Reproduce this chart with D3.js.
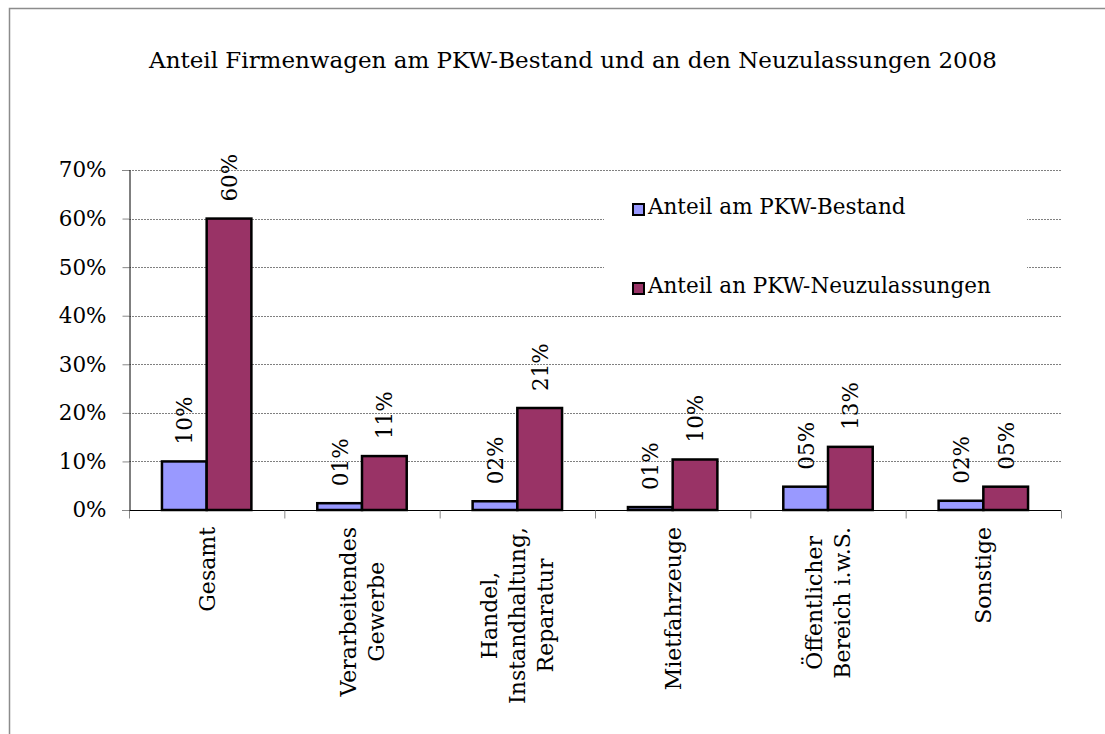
<!DOCTYPE html>
<html>
<head>
<meta charset="utf-8">
<script src="https://cdn.jsdelivr.net/npm/d3@7"></script>
<style>
  body { margin: 0; background: #fff; }
  svg { display: block; font-family: "DejaVu Serif", serif; }
  .grid line { stroke: #808080; stroke-dasharray: 2,1; }
</style>
</head>
<body>
<svg width="1105" height="734"></svg>
<script>
const categories = [
  ["Gesamt"],
  ["Verarbeitendes", "Gewerbe"],
  ["Handel,", "Instandhaltung,", "Reparatur"],
  ["Mietfahrzeuge"],
  ["Öffentlicher", "Bereich i.w.S."],
  ["Sonstige"]
];
const seriesNames = ["Anteil am PKW-Bestand", "Anteil an PKW-Neuzulassungen"];
const bestand = [0.10, 0.014, 0.018, 0.006, 0.048, 0.019];
const neuzulassungen = [0.60, 0.111, 0.21, 0.104, 0.13, 0.048];
const yTicks = [0, 0.1, 0.2, 0.3, 0.4, 0.5, 0.6, 0.7];
const colors = ["#9999ff", "#993366"];
const title = "Anteil Firmenwagen am PKW-Bestand und an den Neuzulassungen 2008";

const svg = d3.select("svg");
const plotLeft = 129, plotRight = 1061, plotTop = 170, plotBottom = 510;
const fs = 21.5;

// frame
svg.append("path")
  .attr("d", "M9.5,734 V8.5 H1105")
  .attr("fill", "none")
  .attr("stroke", "#8c8c8c")
  .attr("stroke-width", 1.5);

svg.append("text")
  .attr("x", 573).attr("y", 68)
  .attr("text-anchor", "middle")
  .attr("font-size", 23)
  .text(title);

const keys = categories.map((c) => c.join(" "));
const x = d3.scaleBand().domain(keys).range([plotLeft, plotRight]).padding(0);
const x1 = d3.scaleBand().domain([0, 1]).range([0, x.bandwidth()]).paddingInner(0).paddingOuter(0.737);
const y = d3.scaleLinear().domain([0, 0.7]).range([plotBottom, plotTop]);

// gridlines
svg.append("g").attr("class", "grid")
  .selectAll("line").data(yTicks.slice(1)).join("line")
  .attr("x1", plotLeft).attr("x2", plotRight)
  .attr("y1", (d) => Math.round(y(d)) + 0.5).attr("y2", (d) => Math.round(y(d)) + 0.5);

// legend background hides the grid behind it
svg.append("rect")
  .attr("x", 604).attr("y", 186).attr("width", 423).attr("height", 120)
  .attr("fill", "#fff");

// y axis
const yAxis = svg.append("g")
  .attr("transform", `translate(${plotLeft + 0.5},0)`)
  .call(d3.axisLeft(y).tickValues(yTicks).tickFormat(d3.format(".0%")).tickSize(7).tickPadding(16));
yAxis.select(".domain").attr("stroke", "#000");
yAxis.selectAll(".tick line").attr("stroke", "#888");
yAxis.selectAll(".tick text").attr("font-size", fs).attr("font-family", "DejaVu Serif").attr("fill", "#000");

// x axis
const xAxis = svg.append("g").attr("transform", `translate(0,${plotBottom + 0.5})`);
xAxis.append("line").attr("x1", plotLeft).attr("x2", plotRight).attr("stroke", "#000");
xAxis.selectAll(".xt").data(d3.range(keys.length + 1)).join("line")
  .attr("class", "xt")
  .attr("x1", (i) => plotLeft + i * x.step() + 0.5).attr("x2", (i) => plotLeft + i * x.step() + 0.5)
  .attr("y1", 0).attr("y2", 8)
  .attr("stroke", "#888");

const lineGap = 28;
const lab = svg.append("g").selectAll("text").data(categories).join("text")
  .attr("transform", (d, i) => `translate(${x(keys[i]) + x.bandwidth() / 2},527) rotate(-90)`)
  .attr("text-anchor", "end")
  .attr("font-size", 22);
lab.each(function (lines) {
  const t = d3.select(this);
  const n = lines.length;
  lines.forEach((ln, j) => {
    t.append("tspan")
      .attr("x", 0)
      .attr("y", (j - (n - 1) / 2) * lineGap + 8)
      .text(ln);
  });
});
// center lines relative to the longest one
lab.each(function (lines) {
  const spans = d3.select(this).selectAll("tspan").nodes();
  const widths = spans.map((s) => s.getComputedTextLength());
  const maxW = d3.max(widths);
  spans.forEach((s, j) => d3.select(s).attr("x", -(maxW - widths[j]) / 2));
});

// bars
const rows = keys.map((k, i) => ({ key: k, values: [bestand[i], neuzulassungen[i]] }));
const groups = svg.append("g").selectAll("g").data(rows).join("g")
  .attr("transform", (d) => `translate(${x(d.key)},0)`);

groups.selectAll("rect").data((d) => d.values.map((v, s) => ({ v, s }))).join("rect")
  .attr("x", (d) => x1(d.s))
  .attr("y", (d) => y(d.v))
  .attr("width", x1.bandwidth())
  .attr("height", (d) => y(0) - y(d.v))
  .attr("fill", (d) => colors[d.s])
  .attr("stroke", "#000")
  .attr("stroke-width", 2.5);

const fmt = (v) => String(Math.round(v * 100)).padStart(2, "0") + "%";
groups.selectAll("text").data((d) => d.values.map((v, s) => ({ v, s }))).join("text")
  .attr("transform", (d) => `translate(${x1(d.s) + x1.bandwidth() / 2 + 8},${y(d.v) - 17}) rotate(-90)`)
  .attr("font-size", fs)
  .text((d) => fmt(d.v));

// legend
const leg = svg.append("g").selectAll("g").data(seriesNames).join("g")
  .attr("transform", (d, i) => `translate(633,${204 + i * 79})`);
leg.append("rect")
  .attr("width", 11).attr("height", 11)
  .attr("fill", (d, i) => colors[i])
  .attr("stroke", "#000").attr("stroke-width", 2);
leg.append("text")
  .attr("x", 15).attr("y", 10)
  .attr("font-size", fs)
  .text((d) => d);
</script>
</body>
</html>
